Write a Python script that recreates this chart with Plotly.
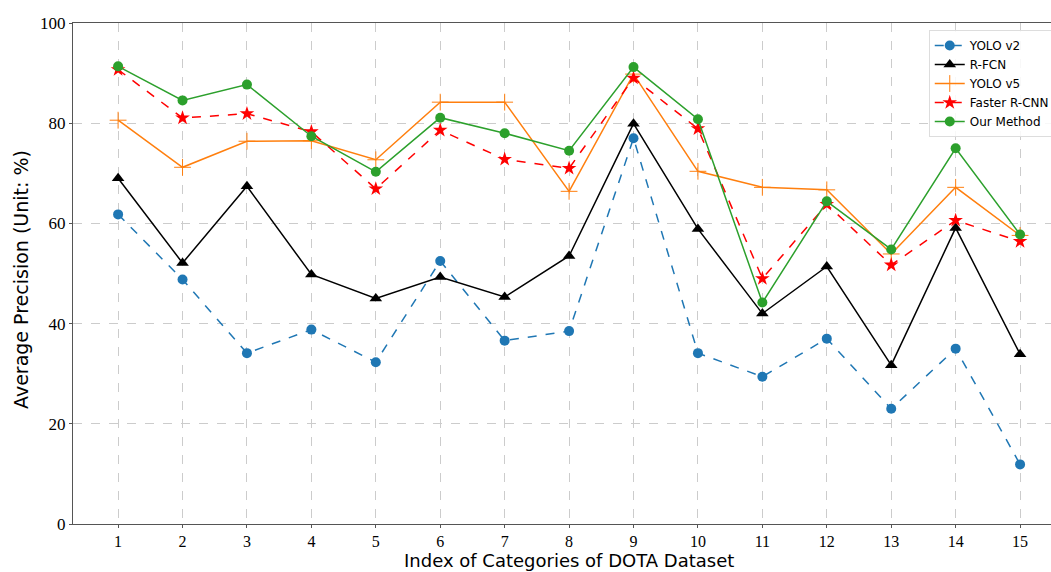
import plotly.graph_objects as go

categories = list(range(1, 16))
yolo_v2 = [61.8, 48.8, 34.1, 38.8, 32.3, 52.5, 36.6, 38.5, 77.0, 34.1, 29.4, 37.0, 23.0, 35.0, 11.9]
r_fcn = [69.0, 52.1, 67.4, 49.8, 45.0, 49.3, 45.3, 53.5, 79.9, 58.9, 42.0, 51.4, 31.7, 59.1, 33.9]
yolo_v5 = [80.6, 71.2, 76.4, 76.5, 72.7, 84.2, 84.2, 66.4, 89.8, 70.4, 67.2, 66.7, 53.9, 67.2, 57.6]
faster_rcnn = [90.7, 81.05, 81.9, 78.3, 66.9, 78.6, 72.8, 71.0, 89.0, 78.9, 49.0, 63.8, 51.7, 60.6, 56.4]
our_method = [91.35, 84.55, 87.7, 77.4, 70.3, 81.1, 78.0, 74.5, 91.2, 80.8, 44.2, 64.4, 54.8, 75.0, 57.8]

y_ticks = [0, 20, 40, 60, 80, 100]

fig = go.Figure()
fig.add_trace(go.Scatter(x=categories, y=yolo_v2, name="YOLO v2", mode="lines+markers",
                         line=dict(color="#1f77b4", width=1.5, dash="dash"),
                         marker=dict(symbol="circle", size=10, color="#1f77b4")))
fig.add_trace(go.Scatter(x=categories, y=r_fcn, name="R-FCN", mode="lines+markers",
                         line=dict(color="black", width=1.5),
                         marker=dict(symbol="triangle-up", size=11, color="black")))
fig.add_trace(go.Scatter(x=categories, y=yolo_v5, name="YOLO v5", mode="lines+markers",
                         line=dict(color="#ff7f0e", width=1.5),
                         marker=dict(symbol="cross-thin", size=12, color="#ff7f0e",
                                     line=dict(color="#ff7f0e", width=1))))
fig.add_trace(go.Scatter(x=categories, y=faster_rcnn, name="Faster R-CNN", mode="lines+markers",
                         line=dict(color="red", width=1.5, dash="dash"),
                         marker=dict(symbol="star", size=11, color="red")))
fig.add_trace(go.Scatter(x=categories, y=our_method, name="Our Method", mode="lines+markers",
                         line=dict(color="#2ca02c", width=1.5),
                         marker=dict(symbol="circle", size=10, color="#2ca02c")))

axis_common = dict(showline=True, linecolor="#555555", linewidth=1, mirror=True,
                   showgrid=True, gridcolor="#cccccc", griddash="dash", gridwidth=1,
                   ticks="outside", ticklen=3, tickcolor="#555555", zeroline=False,
                   automargin=False)

plot_bottom = 524
fig.update_layout(
    width=1051, height=572,
    margin=dict(l=73, r=0, t=23, b=572 - plot_bottom, autoexpand=False),
    plot_bgcolor="white", paper_bgcolor="white",
    xaxis=dict(range=[0.3, 15.48], tickmode="array", tickvals=categories,
               tickfont=dict(family="Liberation Serif", size=16, color="black"), **axis_common),
    yaxis=dict(range=[0, 100], tickmode="array", tickvals=y_ticks,
               tickfont=dict(family="Liberation Serif", size=17, color="black"), **axis_common),
    legend=dict(x=0.875, y=0.986, xanchor="left", yanchor="top",
                bgcolor="rgba(255,255,255,0.85)", bordercolor="#dddddd", borderwidth=1,
                font=dict(family="DejaVu Sans", size=12, color="black"),
                itemwidth=30, tracegroupgap=0),
    showlegend=True,
    annotations=[
        dict(text="Index of Categories of DOTA Dataset", xref="paper", yref="paper",
             x=(569 - 73) / 978, y=(plot_bottom - 572) / (plot_bottom - 23),
             xanchor="center", yanchor="bottom",
             borderpad=0, showarrow=False,
             font=dict(family="DejaVu Sans", size=18, color="black")),
        dict(text="Average Precision (Unit: %)", xref="paper", yref="paper",
             x=(21 - 73) / 978, y=(plot_bottom - 280) / (plot_bottom - 23),
             xanchor="center", yanchor="middle",
             textangle=-90, showarrow=False,
             font=dict(family="DejaVu Sans", size=19, color="black")),
    ],
)

fig.write_html("out.html", config={"displayModeBar": False},
               post_script="document.body.style.margin='0';document.body.style.overflow='hidden';")
